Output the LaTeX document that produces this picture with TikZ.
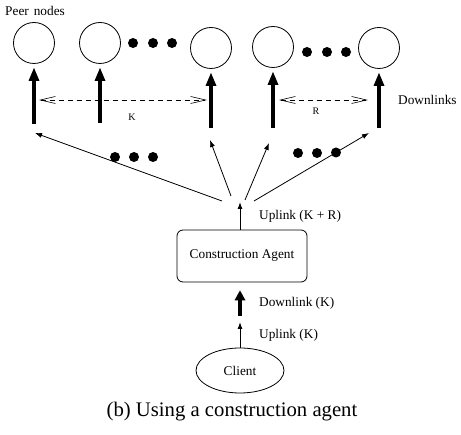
\documentclass[tikz,border=0pt]{standalone}
\usepackage{fontspec}
\setmainfont{Liberation Serif}
\usetikzlibrary{arrows.meta,shapes.geometric}

\begin{document}
\begin{tikzpicture}[x=1pt,y=-1pt,
  peer/.style={circle,draw,line width=0.8pt,minimum size=41pt,inner sep=0pt},
  bigdot/.style={circle,fill,inner sep=0pt,minimum size=10pt},
  downlink/.style={line width=4pt,-{Triangle[length=13pt,width=11pt,line width=0pt]}},
  cadown/.style={line width=4.5pt,-{Triangle[length=10pt,width=11pt,line width=0pt]}},
  thinlink/.style={line width=0.8pt,-{Latex[length=7pt,width=5pt]}},
  uplink/.style={line width=1pt,-{Latex[length=7pt,width=5pt]}},
  span/.style={dash pattern=on 5pt off 4pt,line width=0.6pt,
    {Straight Barb[length=15pt,width=7pt]}-{Straight Barb[length=15pt,width=7pt]}},
  lbl/.style={font=\fontsize{13.3}{16}\selectfont,inner sep=0pt},
  small/.style={font=\fontsize{10}{12}\selectfont,inner sep=0pt},
  ]
\useasboundingbox (0,0) rectangle (461,435);

% peer nodes
\node[peer] (p1) at (34,43) {};
\node[peer] (p2) at (100,43) {};
\node[peer] (p3) at (211,48) {};
\node[peer] (p4) at (273,47) {};
\node[peer] (p5) at (379,48) {};
\node[lbl,anchor=west] (pn) at (5,10.5) {Peer\hspace{5pt}nodes};

% ellipsis dots between peers
\node[bigdot] (e1) at (133,43) {};
\node[bigdot] (e2) at (153,43) {};
\node[bigdot] (e3) at (172,43) {};
\node[bigdot] (e4) at (307,52) {};
\node[bigdot] (e5) at (327,52) {};
\node[bigdot] (e6) at (346,52) {};

% downlinks to the peers
\coordinate (d1) at (34,124);
\coordinate (d2) at (100,123);
\coordinate (d3) at (211,128);
\coordinate (d4) at (273,128);
\coordinate (d5) at (379,128);
\foreach \i in {1,...,5}
  \draw[downlink,shorten >=4pt] (d\i) -- (p\i.south);
\node[lbl,anchor=west] (dl) at (398,100) {Downlinks};

% spans K and R
\coordinate (kl) at (39,100);
\coordinate (kr) at (207,100);
\draw[span] (kl) -- (kr);
\node[small] (klab) at (132,117) {K};
\coordinate (rl) at (279,100);
\coordinate (rr) at (368,100);
\draw[span] (rl) -- (rr);
\node[small] (rlab) at (316,111) {R};

% uplink fan from the construction agent
\coordinate (f1) at (222,201);
\coordinate (f3) at (231,196);
\coordinate (f4) at (245,200);
\coordinate (f5) at (254,201);
\coordinate (t1) at (35,133);
\coordinate (t3) at (210,140);
\coordinate (t4) at (269,143);
\coordinate (t5) at (369,133);
\draw[thinlink] (f1) -- (t1);
\draw[thinlink] (f3) -- (t3);
\draw[thinlink] (f4) -- (t4);
\draw[thinlink] (f5) -- (t5);

\node[bigdot] (e7) at (115,157) {};
\node[bigdot] (e8) at (134,157) {};
\node[bigdot] (e9) at (153,157) {};
\node[bigdot] (e10) at (298,153) {};
\node[bigdot] (e11) at (317,153) {};
\node[bigdot] (e12) at (336,152.5) {};

% construction agent
\node[draw,rounded corners=6pt,line width=0.8pt,minimum width=130pt,
  minimum height=52pt,lbl] (ca) at (242,256) {Construction Agent};
\coordinate (u1) at (240,202);
\draw[uplink] (ca.north -| u1) -- (u1);
\node[lbl,anchor=west] (ulkr) at (259,216) {Uplink (K + R)};

\coordinate (dk) at (240,316);
\draw[cadown,shorten >=8pt] (dk) -- (ca.south -| dk);
\node[lbl,anchor=west] (dlk) at (259,303) {Downlink (K)};

% client
\node[ellipse,draw,line width=0.8pt,minimum width=88pt,minimum height=45pt,
  lbl] (cl) at (240,370.5) {Client};
\coordinate (uk) at (240,322);
\draw[uplink] (cl.north) -- (uk);
\node[lbl,anchor=west] (ulk) at (259,335) {Uplink (K)};

% caption
\node[font=\fontsize{20.7}{24}\selectfont,inner sep=0pt] (cap) at (232,412)
  {(b) Using a construction agent};
\end{tikzpicture}
\end{document}
